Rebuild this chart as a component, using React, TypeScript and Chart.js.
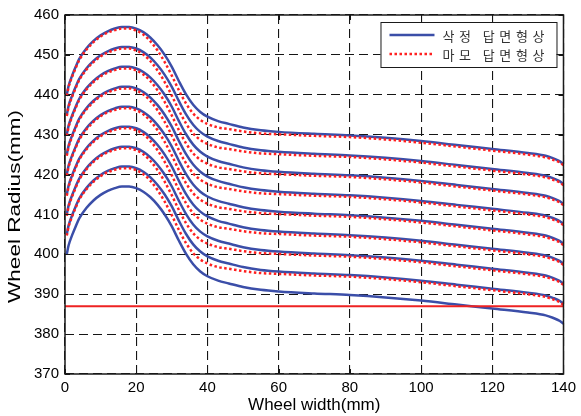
import React, { useEffect, useRef } from "react";
import { Chart, registerables } from "chart.js";

Chart.register(...registerables);

// Wheel width positions (mm) sampled along every profile
const widthMm = [0.5, 1, 2, 3, 4, 6, 8, 10, 12, 14, 16, 18, 20, 22, 24, 26, 28, 30, 32, 34, 36, 38, 40, 43, 46, 50, 55, 60, 70, 80, 90, 100, 110, 120, 130, 135, 137, 139, 140];

// 삭정 답면형상 (reprofiled tread profiles), bottom to top
const reprofiled0 = [400, 402.2, 404.8, 407, 409, 411.6, 413.5, 414.9, 415.9, 416.6, 417, 417, 416.6, 415.7, 414.3, 412.4, 410, 407, 403.4, 400.1, 397.5, 395.7, 394.5, 393.4, 392.7, 391.8, 391.1, 390.7, 390.2, 389.8, 389.2, 388.4, 387.4, 386.4, 385.4, 384.7, 384.1, 383.3, 382.6];
const reprofiled1 = [405, 407.2, 409.8, 412, 414, 416.6, 418.5, 419.9, 420.9, 421.6, 422, 422, 421.6, 420.7, 419.3, 417.4, 415, 412, 408.4, 405.1, 402.5, 400.7, 399.5, 398.4, 397.7, 396.8, 396.1, 395.7, 395.2, 394.8, 394.2, 393.4, 392.4, 391.4, 390.4, 389.7, 389.1, 388.3, 387.6];
const reprofiled2 = [410, 412.2, 414.8, 417, 419, 421.6, 423.5, 424.9, 425.9, 426.6, 427, 427, 426.6, 425.7, 424.3, 422.4, 420, 417, 413.4, 410.1, 407.5, 405.7, 404.5, 403.4, 402.7, 401.8, 401.1, 400.7, 400.2, 399.8, 399.2, 398.4, 397.4, 396.4, 395.4, 394.7, 394.1, 393.3, 392.6];
const reprofiled3 = [415, 417.2, 419.8, 422, 424, 426.6, 428.5, 429.9, 430.9, 431.6, 432, 432, 431.6, 430.7, 429.3, 427.4, 425, 422, 418.4, 415.1, 412.5, 410.7, 409.5, 408.4, 407.7, 406.8, 406.1, 405.7, 405.2, 404.8, 404.2, 403.4, 402.4, 401.4, 400.4, 399.7, 399.1, 398.3, 397.6];
const reprofiled4 = [420, 422.2, 424.8, 427, 429, 431.6, 433.5, 434.9, 435.9, 436.6, 437, 437, 436.6, 435.7, 434.3, 432.4, 430, 427, 423.4, 420.1, 417.5, 415.7, 414.5, 413.4, 412.7, 411.8, 411.1, 410.7, 410.2, 409.8, 409.2, 408.4, 407.4, 406.4, 405.4, 404.7, 404.1, 403.3, 402.6];
const reprofiled5 = [425, 427.2, 429.8, 432, 434, 436.6, 438.5, 439.9, 440.9, 441.6, 442, 442, 441.6, 440.7, 439.3, 437.4, 435, 432, 428.4, 425.1, 422.5, 420.7, 419.5, 418.4, 417.7, 416.8, 416.1, 415.7, 415.2, 414.8, 414.2, 413.4, 412.4, 411.4, 410.4, 409.7, 409.1, 408.3, 407.6];
const reprofiled6 = [430, 432.2, 434.8, 437, 439, 441.6, 443.5, 444.9, 445.9, 446.6, 447, 447, 446.6, 445.7, 444.3, 442.4, 440, 437, 433.4, 430.1, 427.5, 425.7, 424.5, 423.4, 422.7, 421.8, 421.1, 420.7, 420.2, 419.8, 419.2, 418.4, 417.4, 416.4, 415.4, 414.7, 414.1, 413.3, 412.6];
const reprofiled7 = [435, 437.2, 439.8, 442, 444, 446.6, 448.5, 449.9, 450.9, 451.6, 452, 452, 451.6, 450.7, 449.3, 447.4, 445, 442, 438.4, 435.1, 432.5, 430.7, 429.5, 428.4, 427.7, 426.8, 426.1, 425.7, 425.2, 424.8, 424.2, 423.4, 422.4, 421.4, 420.4, 419.7, 419.1, 418.3, 417.6];
const reprofiled8 = [440, 442.2, 444.8, 447, 449, 451.6, 453.5, 454.9, 455.9, 456.6, 457, 457, 456.6, 455.7, 454.3, 452.4, 450, 447, 443.4, 440.1, 437.5, 435.7, 434.5, 433.4, 432.7, 431.8, 431.1, 430.7, 430.2, 429.8, 429.2, 428.4, 427.4, 426.4, 425.4, 424.7, 424.1, 423.3, 422.6];

// 마모 답면형상 (worn tread profiles), bottom to top
const worn1 = [404.7, 406.9, 409.5, 411.7, 413.7, 416.3, 418.2, 419.6, 420.6, 421.2, 421.6, 421.6, 421.1, 420.1, 418.4, 416.1, 413.2, 409.8, 406.1, 402.8, 400.3, 398.7, 397.7, 396.8, 396.4, 395.8, 395.3, 395.1, 394.7, 394.4, 393.8, 393.0, 392.0, 391.0, 390.0, 389.3, 388.7, 388.0, 387.3];
const worn2 = [409.7, 411.9, 414.5, 416.7, 418.7, 421.3, 423.2, 424.6, 425.6, 426.2, 426.6, 426.6, 426.1, 425.1, 423.4, 421.1, 418.2, 414.8, 411.1, 407.8, 405.3, 403.7, 402.7, 401.8, 401.4, 400.8, 400.3, 400.1, 399.7, 399.4, 398.8, 398.0, 397.0, 396.0, 395.0, 394.3, 393.7, 393.0, 392.3];
const worn3 = [414.7, 416.9, 419.5, 421.7, 423.7, 426.3, 428.2, 429.6, 430.6, 431.2, 431.6, 431.6, 431.1, 430.1, 428.4, 426.1, 423.2, 419.8, 416.1, 412.8, 410.3, 408.7, 407.7, 406.8, 406.4, 405.8, 405.3, 405.1, 404.7, 404.4, 403.8, 403.0, 402.0, 401.0, 400.0, 399.3, 398.7, 398.0, 397.3];
const worn4 = [419.7, 421.9, 424.5, 426.7, 428.7, 431.3, 433.2, 434.6, 435.6, 436.2, 436.6, 436.6, 436.1, 435.1, 433.4, 431.1, 428.2, 424.8, 421.1, 417.8, 415.3, 413.7, 412.7, 411.8, 411.4, 410.8, 410.3, 410.1, 409.7, 409.4, 408.8, 408.0, 407.0, 406.0, 405.0, 404.3, 403.7, 403.0, 402.3];
const worn5 = [424.7, 426.9, 429.5, 431.7, 433.7, 436.3, 438.2, 439.6, 440.6, 441.2, 441.6, 441.6, 441.1, 440.1, 438.4, 436.1, 433.2, 429.8, 426.1, 422.8, 420.3, 418.7, 417.7, 416.8, 416.4, 415.8, 415.3, 415.1, 414.7, 414.4, 413.8, 413.0, 412.0, 411.0, 410.0, 409.3, 408.7, 408.0, 407.3];
const worn6 = [429.7, 431.9, 434.5, 436.7, 438.7, 441.3, 443.2, 444.6, 445.6, 446.2, 446.6, 446.6, 446.1, 445.1, 443.4, 441.1, 438.2, 434.8, 431.1, 427.8, 425.3, 423.7, 422.7, 421.8, 421.4, 420.8, 420.3, 420.1, 419.7, 419.4, 418.8, 418.0, 417.0, 416.0, 415.0, 414.3, 413.7, 413.0, 412.3];
const worn7 = [434.7, 436.9, 439.5, 441.7, 443.7, 446.3, 448.2, 449.6, 450.6, 451.2, 451.6, 451.6, 451.1, 450.1, 448.4, 446.1, 443.2, 439.8, 436.1, 432.8, 430.3, 428.7, 427.7, 426.8, 426.4, 425.8, 425.3, 425.1, 424.7, 424.4, 423.8, 423.0, 422.0, 421.0, 420.0, 419.3, 418.7, 418.0, 417.3];
const worn8 = [439.7, 441.9, 444.5, 446.7, 448.7, 451.3, 453.2, 454.6, 455.6, 456.2, 456.6, 456.6, 456.1, 455.1, 453.4, 451.1, 448.2, 444.8, 441.1, 437.8, 435.3, 433.7, 432.7, 431.8, 431.4, 430.8, 430.3, 430.1, 429.7, 429.4, 428.8, 428.0, 427.0, 426.0, 425.0, 424.3, 423.7, 423.0, 422.3];

// Horizontal limit line
const limitX = [0, 140];
const limitY = [387, 387];

const reprofiledSeries = [reprofiled0, reprofiled1, reprofiled2, reprofiled3, reprofiled4, reprofiled5, reprofiled6, reprofiled7, reprofiled8];
const wornSeries = [worn1, worn2, worn3, worn4, worn5, worn6, worn7, worn8];

const xRange = [0, 140];
const yRange = [370, 460];
const xStep = 20;
const yStep = 10;

const legendLabels = ["삭정 답면형상", "마모 답면형상"];
const xTitle = "Wheel width(mm)";
const yTitle = "Wheel Radius(mm)";

const BLUE = "#3b4ea8";
const RED = "#ff1f1f";
const GRID = "#151515";
const FONT = "'Liberation Sans', Arial, Helvetica, sans-serif";

const toPoints = (ys: number[]) => widthMm.map((x, i) => ({ x, y: ys[i] }));

const framePlugin = {
  id: "frameAndExtras",
  afterDatasetsDraw(chart: any) {
    const { ctx, chartArea } = chart;
    const { left, right, top, bottom } = chartArea;
    const xs = chart.scales.x;
    const ys = chart.scales.y;
    ctx.save();
    // inward tick marks
    ctx.strokeStyle = GRID;
    ctx.lineWidth = 1;
    ctx.setLineDash([]);
    const tl = 5;
    xs.ticks.forEach((t: any) => {
      const px = Math.round(xs.getPixelForValue(t.value)) + 0.5;
      ctx.beginPath();
      ctx.moveTo(px, bottom);
      ctx.lineTo(px, bottom - tl);
      ctx.moveTo(px, top);
      ctx.lineTo(px, top + tl);
      ctx.stroke();
    });
    ys.ticks.forEach((t: any) => {
      const py = Math.round(ys.getPixelForValue(t.value)) + 0.5;
      ctx.beginPath();
      ctx.moveTo(left, py);
      ctx.lineTo(left + tl, py);
      ctx.moveTo(right, py);
      ctx.lineTo(right - tl, py);
      ctx.stroke();
    });
    // frame
    ctx.strokeStyle = "#1a1a1a";
    ctx.lineWidth = 1.5;
    ctx.strokeRect(left, top, right - left, bottom - top);

    // legend box
    const boxW = 176;
    const boxH = 45;
    const bx = right - 7 - boxW;
    const by = top + 7;
    ctx.fillStyle = "#ffffff";
    ctx.fillRect(bx, by, boxW, boxH);
    ctx.strokeStyle = "#1a1a1a";
    ctx.lineWidth = 1;
    ctx.strokeRect(bx + 0.5, by + 0.5, boxW, boxH);
    const rowY = [by + 13, by + 32];
    const styles = [
      { color: BLUE, dash: [] as number[], width: 2.5 },
      { color: RED, dash: [2.5, 2.5], width: 2.5 },
    ];
    legendLabels.forEach((label, i) => {
      ctx.beginPath();
      ctx.strokeStyle = styles[i].color;
      ctx.lineWidth = styles[i].width;
      ctx.setLineDash(styles[i].dash);
      ctx.moveTo(bx + 9, rowY[i]);
      ctx.lineTo(bx + 54, rowY[i]);
      ctx.stroke();
      ctx.setLineDash([]);
      ctx.fillStyle = "#333";
      ctx.font = "13px 'Noto Sans CJK KR', sans-serif";
      ctx.textBaseline = "middle";
      ctx.textAlign = "left";
      // wide character spacing as in the reference legend
      let cx = bx + 62;
      for (const ch of Array.from(label)) {
        if (ch === " ") {
          cx += 7;
          continue;
        }
        ctx.fillText(ch, cx, rowY[i] + 1);
        cx += 16.6;
      }
    });

    // y axis title (stretched along its length like the reference)
    ctx.save();
    ctx.font = `17px ${FONT}`;
    ctx.fillStyle = "#000";
    const w = ctx.measureText(yTitle).width;
    const targetLen = 193;
    ctx.translate(left - 50, (top + bottom) / 2 + 12);
    ctx.rotate(-Math.PI / 2);
    ctx.scale(targetLen / w, 1);
    ctx.textAlign = "center";
    ctx.textBaseline = "middle";
    ctx.fillText(yTitle, 0, 0);
    ctx.restore();

    ctx.restore();
  },
};

export default function App() {
  const canvasRef = useRef<HTMLCanvasElement | null>(null);

  useEffect(() => {
    if (!canvasRef.current) return;
    const datasets: any[] = [];
    datasets.push({
      label: "limit",
      data: limitX.map((x, i) => ({ x, y: limitY[i] })),
      borderColor: "#ee2222",
      borderWidth: 2,
      pointRadius: 0,
      order: 0,
    });
    wornSeries.forEach((ys) => {
      datasets.push({
        label: legendLabels[1],
        data: toPoints(ys),
        borderColor: RED,
        borderWidth: 2.5,
        borderDash: [2.5, 2.5],
        pointRadius: 0,
        cubicInterpolationMode: "monotone",
        order: 1,
      });
    });
    reprofiledSeries.forEach((ys) => {
      datasets.push({
        label: legendLabels[0],
        data: toPoints(ys),
        borderColor: BLUE,
        borderWidth: 2.5,
        pointRadius: 0,
        cubicInterpolationMode: "monotone",
        order: 2,
      });
    });

    const chart = new Chart(canvasRef.current, {
      type: "line",
      data: { datasets },
      options: {
        animation: false,
        responsive: true,
        maintainAspectRatio: false,
        devicePixelRatio: 1,
        layout: { padding: { top: 15, right: 14, left: 0, bottom: 0 } },
        plugins: { legend: { display: false }, tooltip: { enabled: false } },
        scales: {
          x: {
            type: "linear",
            min: xRange[0],
            max: xRange[1],
            afterFit: (s: any) => {
              s.height = 42;
            },
            ticks: {
              stepSize: xStep,
              color: "#000",
              font: { family: FONT, size: 15 },
              padding: 5,
              maxRotation: 0,
            },
            grid: { color: GRID, lineWidth: 1.1, drawTicks: false, borderDash: [9, 5] } as any,
            border: { display: false, dash: [9, 5] } as any,
            title: {
              display: true,
              text: xTitle,
              color: "#000",
              font: { family: FONT, size: 17 },
              padding: { top: 0, bottom: 0 },
            },
          },
          y: {
            type: "linear",
            min: yRange[0],
            max: yRange[1],
            afterFit: (s: any) => {
              s.width = 65;
            },
            ticks: {
              stepSize: yStep,
              color: "#000",
              font: { family: FONT, size: 15 },
              padding: 6,
            },
            grid: { color: GRID, lineWidth: 1.1, drawTicks: false, borderDash: [9, 5] } as any,
            border: { display: false, dash: [9, 5] } as any,
            title: { display: false },
          },
        },
      },
      plugins: [framePlugin],
    });
    return () => chart.destroy();
  }, []);

  return (
    <div style={{ position: "absolute", left: 0, top: 0, width: 581, height: 416, background: "#fff" }}>
      <canvas ref={canvasRef} />
    </div>
  );
}
